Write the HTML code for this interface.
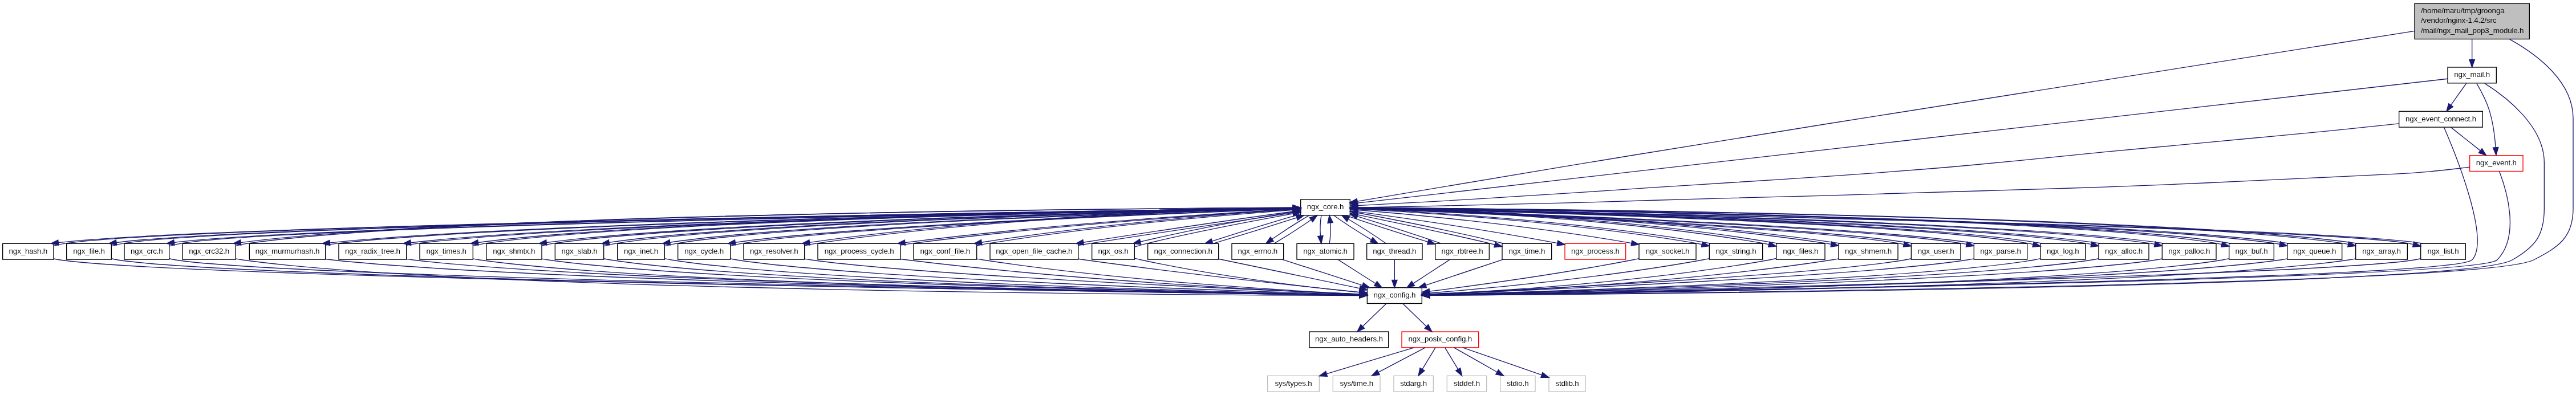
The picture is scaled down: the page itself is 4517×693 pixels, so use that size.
<!DOCTYPE html>
<html><head><meta charset="utf-8"><title>ngx_mail_pop3_module.h include graph</title>
<style>html,body{margin:0;padding:0;background:#fff}svg{display:block;will-change:transform}text{font-family:"Liberation Sans",sans-serif;font-size:13.33px;fill:#000;letter-spacing:-0.15px;stroke-width:0.05px;stroke:#fff}text.g{stroke:#bfbfbf}.e{fill:none;stroke:#191970;stroke-width:1.333}.a{fill:#191970;stroke:#191970;stroke-width:1.333}.b{stroke-width:1.333}</style></head><body>
<svg width="4517" height="693" viewBox="0 0 4517 693">
<rect width="4517" height="693" fill="#fff"/>
<rect class="b" x="4234" y="6.13" width="201.33" height="62.4" fill="#bfbfbf" stroke="#000"/>
<text class="g" x="4245.07" y="22.93">/home/maru/tmp/groonga</text>
<text class="g" x="4245.07" y="40.33">/vendor/nginx-1.4.2/src</text>
<text class="g" x="4245.07" y="57.73">/mail/ngx_mail_pop3_module.h</text>
<rect class="b" x="2397.33" y="504.67" width="96" height="27.8" fill="#fff" stroke="#000"/>
<text x="2445.33" y="521.9" text-anchor="middle">ngx_config.h</text>
<rect class="b" x="2280.67" y="350" width="86.67" height="27.8" fill="#fff" stroke="#000"/>
<text x="2324" y="366.9" text-anchor="middle">ngx_core.h</text>
<rect class="b" x="4292" y="118" width="85.33" height="27.8" fill="#fff" stroke="#000"/>
<text x="4334.67" y="134.9" text-anchor="middle">ngx_mail.h</text>
<rect class="b" x="2296" y="582" width="138.67" height="27.8" fill="#fff" stroke="#000"/>
<text x="2365.33" y="598.9" text-anchor="middle">ngx_auto_headers.h</text>
<rect class="b" x="2458" y="582" width="134.67" height="27.8" fill="#fff" stroke="#f00"/>
<text x="2525.33" y="598.9" text-anchor="middle">ngx_posix_config.h</text>
<rect class="b" x="2222.67" y="659.33" width="90.67" height="27.8" fill="#fff" stroke="#bfbfbf"/>
<text x="2268" y="676.9" text-anchor="middle">sys/types.h</text>
<rect class="b" x="2337.33" y="659.33" width="82.67" height="27.8" fill="#fff" stroke="#bfbfbf"/>
<text x="2378.67" y="676.9" text-anchor="middle">sys/time.h</text>
<rect class="b" x="2444" y="659.33" width="69.33" height="27.8" fill="#fff" stroke="#bfbfbf"/>
<text x="2478.67" y="676.9" text-anchor="middle">stdarg.h</text>
<rect class="b" x="2537.33" y="659.33" width="69.33" height="27.8" fill="#fff" stroke="#bfbfbf"/>
<text x="2572" y="676.9" text-anchor="middle">stddef.h</text>
<rect class="b" x="2630.67" y="659.33" width="61.33" height="27.8" fill="#fff" stroke="#bfbfbf"/>
<text x="2661.33" y="676.9" text-anchor="middle">stdio.h</text>
<rect class="b" x="2716" y="659.33" width="64" height="27.8" fill="#fff" stroke="#bfbfbf"/>
<text x="2748" y="676.9" text-anchor="middle">stdlib.h</text>
<rect class="b" x="2160" y="427.33" width="90.67" height="27.8" fill="#fff" stroke="#000"/>
<text x="2205.33" y="444.9" text-anchor="middle">ngx_errno.h</text>
<rect class="b" x="2274" y="427.33" width="100" height="27.8" fill="#fff" stroke="#000"/>
<text x="2324" y="444.9" text-anchor="middle">ngx_atomic.h</text>
<rect class="b" x="2396.67" y="427.33" width="97.33" height="27.8" fill="#fff" stroke="#000"/>
<text x="2445.33" y="444.9" text-anchor="middle">ngx_thread.h</text>
<rect class="b" x="2516.67" y="427.33" width="94.67" height="27.8" fill="#fff" stroke="#000"/>
<text x="2564" y="444.9" text-anchor="middle">ngx_rbtree.h</text>
<rect class="b" x="2634" y="427.33" width="86.67" height="27.8" fill="#fff" stroke="#000"/>
<text x="2677.33" y="444.9" text-anchor="middle">ngx_time.h</text>
<rect class="b" x="2874" y="427.33" width="100" height="27.8" fill="#fff" stroke="#000"/>
<text x="2924" y="444.9" text-anchor="middle">ngx_socket.h</text>
<rect class="b" x="2997.33" y="427.33" width="93.33" height="27.8" fill="#fff" stroke="#000"/>
<text x="3044" y="444.9" text-anchor="middle">ngx_string.h</text>
<rect class="b" x="3114.67" y="427.33" width="85.33" height="27.8" fill="#fff" stroke="#000"/>
<text x="3157.33" y="444.9" text-anchor="middle">ngx_files.h</text>
<rect class="b" x="3224" y="427.33" width="104" height="27.8" fill="#fff" stroke="#000"/>
<text x="3276" y="444.9" text-anchor="middle">ngx_shmem.h</text>
<rect class="b" x="2744" y="427.33" width="106.67" height="27.8" fill="#fff" stroke="#f00"/>
<text x="2797.33" y="444.9" text-anchor="middle">ngx_process.h</text>
<rect class="b" x="3351.33" y="427.33" width="86.67" height="27.8" fill="#fff" stroke="#000"/>
<text x="3394.67" y="444.9" text-anchor="middle">ngx_user.h</text>
<rect class="b" x="3461.33" y="427.33" width="93.33" height="27.8" fill="#fff" stroke="#000"/>
<text x="3508" y="444.9" text-anchor="middle">ngx_parse.h</text>
<rect class="b" x="3578" y="427.33" width="78.67" height="27.8" fill="#fff" stroke="#000"/>
<text x="3617.33" y="444.9" text-anchor="middle">ngx_log.h</text>
<rect class="b" x="3680" y="427.33" width="88" height="27.8" fill="#fff" stroke="#000"/>
<text x="3724" y="444.9" text-anchor="middle">ngx_alloc.h</text>
<rect class="b" x="3791.33" y="427.33" width="94.67" height="27.8" fill="#fff" stroke="#000"/>
<text x="3838.67" y="444.9" text-anchor="middle">ngx_palloc.h</text>
<rect class="b" x="3908.67" y="427.33" width="78.67" height="27.8" fill="#fff" stroke="#000"/>
<text x="3948" y="444.9" text-anchor="middle">ngx_buf.h</text>
<rect class="b" x="4010.67" y="427.33" width="96" height="27.8" fill="#fff" stroke="#000"/>
<text x="4058.67" y="444.9" text-anchor="middle">ngx_queue.h</text>
<rect class="b" x="4130.67" y="427.33" width="90.67" height="27.8" fill="#fff" stroke="#000"/>
<text x="4176" y="444.9" text-anchor="middle">ngx_array.h</text>
<rect class="b" x="4244.67" y="427.33" width="78.67" height="27.8" fill="#fff" stroke="#000"/>
<text x="4284" y="444.9" text-anchor="middle">ngx_list.h</text>
<rect class="b" x="4.67" y="427.33" width="89.33" height="27.8" fill="#fff" stroke="#000"/>
<text x="49.33" y="444.9" text-anchor="middle">ngx_hash.h</text>
<rect class="b" x="116.67" y="427.33" width="78.67" height="27.8" fill="#fff" stroke="#000"/>
<text x="156" y="444.9" text-anchor="middle">ngx_file.h</text>
<rect class="b" x="218" y="427.33" width="78.67" height="27.8" fill="#fff" stroke="#000"/>
<text x="257.33" y="444.9" text-anchor="middle">ngx_crc.h</text>
<rect class="b" x="320" y="427.33" width="93.33" height="27.8" fill="#fff" stroke="#000"/>
<text x="366.67" y="444.9" text-anchor="middle">ngx_crc32.h</text>
<rect class="b" x="437.33" y="427.33" width="133.33" height="27.8" fill="#fff" stroke="#000"/>
<text x="504" y="444.9" text-anchor="middle">ngx_murmurhash.h</text>
<rect class="b" x="594" y="427.33" width="118.67" height="27.8" fill="#fff" stroke="#000"/>
<text x="653.33" y="444.9" text-anchor="middle">ngx_radix_tree.h</text>
<rect class="b" x="736" y="427.33" width="93.33" height="27.8" fill="#fff" stroke="#000"/>
<text x="782.67" y="444.9" text-anchor="middle">ngx_times.h</text>
<rect class="b" x="852.67" y="427.33" width="97.33" height="27.8" fill="#fff" stroke="#000"/>
<text x="901.33" y="444.9" text-anchor="middle">ngx_shmtx.h</text>
<rect class="b" x="973.33" y="427.33" width="85.33" height="27.8" fill="#fff" stroke="#000"/>
<text x="1016" y="444.9" text-anchor="middle">ngx_slab.h</text>
<rect class="b" x="1082.67" y="427.33" width="82.67" height="27.8" fill="#fff" stroke="#000"/>
<text x="1124" y="444.9" text-anchor="middle">ngx_inet.h</text>
<rect class="b" x="1188.67" y="427.33" width="92" height="27.8" fill="#fff" stroke="#000"/>
<text x="1234.67" y="444.9" text-anchor="middle">ngx_cycle.h</text>
<rect class="b" x="1304" y="427.33" width="106.67" height="27.8" fill="#fff" stroke="#000"/>
<text x="1357.33" y="444.9" text-anchor="middle">ngx_resolver.h</text>
<rect class="b" x="1434" y="427.33" width="145.33" height="27.8" fill="#fff" stroke="#000"/>
<text x="1506.67" y="444.9" text-anchor="middle">ngx_process_cycle.h</text>
<rect class="b" x="1602" y="427.33" width="110.67" height="27.8" fill="#fff" stroke="#000"/>
<text x="1657.33" y="444.9" text-anchor="middle">ngx_conf_file.h</text>
<rect class="b" x="1736" y="427.33" width="154.67" height="27.8" fill="#fff" stroke="#000"/>
<text x="1813.33" y="444.9" text-anchor="middle">ngx_open_file_cache.h</text>
<rect class="b" x="1914.67" y="427.33" width="74.67" height="27.8" fill="#fff" stroke="#000"/>
<text x="1952" y="444.9" text-anchor="middle">ngx_os.h</text>
<rect class="b" x="2012.67" y="427.33" width="124" height="27.8" fill="#fff" stroke="#000"/>
<text x="2074.67" y="444.9" text-anchor="middle">ngx_connection.h</text>
<rect class="b" x="4330.67" y="272.67" width="93.33" height="27.8" fill="#fff" stroke="#f00"/>
<text x="4377.33" y="289.9" text-anchor="middle">ngx_event.h</text>
<rect class="b" x="4206.67" y="195.33" width="146.67" height="27.8" fill="#fff" stroke="#000"/>
<text x="4280" y="212.9" text-anchor="middle">ngx_event_connect.h</text>
<path class="e" d="M4400.69,68.88C4451.12,96.99 4512,144.15 4512,208C4512,208 4512,208 4512,365.33C4512,416.07 4487.8,432.83 4442.67,456C4354.53,501.25 2833.06,515.64 2506.67,518.22"/>
<polygon class="a" points="2506.63,513.55 2493.33,518.32 2506.7,522.88"/>
<path class="e" d="M4234.41,54.29C3996.64,91.4 3379.95,188.04 2865.33,272 2688.29,300.88 2478.92,336.31 2380.49,353.04"/>
<polygon class="a" points="2380.72,357.73 2366.79,355.37 2379.15,348.53 2380.72,357.73"/>
<path class="e" d="M4334.67,68.53C4334.67,80.21 4334.67,93.37 4334.67,104.67"/>
<polygon class="a" points="4330,104.67 4334.67,118 4339.33,104.67"/>
<path class="e" d="M2431.06,532.47C2419.51,543.63 2402.99,559.6 2389.4,572.73"/>
<polygon class="a" points="2386.16,569.38 2379.82,582 2392.65,576.09"/>
<path class="e" d="M2459.61,532.47C2471.16,543.63 2487.68,559.6 2501.26,572.73"/>
<polygon class="a" points="2498.02,576.09 2510.85,582 2504.51,569.38"/>
<path class="e" d="M2479.41,609.8C2436.57,622.67 2372.48,641.93 2326.1,655.87"/>
<polygon class="a" points="2324.76,651.4 2313.33,659.71 2327.45,660.34"/>
<path class="e" d="M2499.16,609.8C2476.32,621.84 2442.87,639.48 2417.01,653.11"/>
<polygon class="a" points="2414.84,648.99 2405.22,659.33 2419.19,657.24"/>
<path class="e" d="M2517.01,609.8C2510.63,620.36 2501.66,635.22 2494,647.92"/>
<polygon class="a" points="2490.01,645.51 2487.11,659.33 2498,650.33"/>
<path class="e" d="M2533.66,609.8C2540.03,620.36 2549,635.22 2556.66,647.92"/>
<polygon class="a" points="2552.67,650.33 2563.55,659.33 2560.66,645.51"/>
<path class="e" d="M2549.6,609.8C2570.59,621.73 2601.23,639.16 2625.12,652.74"/>
<polygon class="a" points="2622.82,656.8 2636.71,659.33 2627.43,648.69"/>
<path class="e" d="M2565.07,609.8C2603.92,623.29 2662.97,643.8 2703.4,657.85"/>
<polygon class="a" points="2701.87,662.25 2716,662.22 2704.94,653.44"/>
<path class="e" d="M2295.74,377.8C2275.84,389.39 2249.73,406.17 2230.54,419.57"/>
<polygon class="a" points="2227.82,415.78 2219.7,427.33 2233.25,423.37"/>
<path class="e" d="M2316.92,377.8C2315.09,387.86 2314.57,401.82 2315.36,414.09"/>
<polygon class="a" points="2310.72,414.62 2316.88,427.33 2319.99,413.55"/>
<path class="e" d="M2338.57,377.8C2355.07,389.69 2381.95,407.04 2404.74,420.61"/>
<polygon class="a" points="2402.38,424.64 2416.25,427.33 2407.09,416.58"/>
<path class="e" d="M2359.74,377.8C2397.85,390.84 2458.5,410.44 2503.92,424.42"/>
<polygon class="a" points="2502.55,428.88 2516.67,428.32 2505.28,419.96"/>
<path class="e" d="M2367.33,374C2423.74,385.71 2524.61,406.11 2610.67,426.67C2614.05,427.47 2617.54,428.34 2621.08,429.23"/>
<polygon class="a" points="2619.93,433.75 2634,432.52 2622.23,424.71"/>
<path class="e" d="M2367.33,367.28C2457.09,374.45 2670.03,393.42 2860.87,426.55"/>
<polygon class="a" points="2860.06,431.15 2874,428.86 2861.68,421.96"/>
<path class="e" d="M2367.33,366.15C2472.25,371.49 2746.83,387.85 2973.33,426.67C2976.91,427.28 2980.6,428 2984.32,428.77"/>
<polygon class="a" points="2983.3,433.33 2997.33,431.68 2985.34,424.22"/>
<path class="e" d="M2367.33,364.86C2484.84,367.7 2817.79,379.48 3090.67,426.67C3094.26,427.29 3097.96,428.04 3101.7,428.86"/>
<polygon class="a" points="3100.61,433.4 3114.67,431.96 3102.78,424.33"/>
<path class="e" d="M2367.33,364.8C2495.52,367.57 2882.44,379.37 3200,426.67C3203.56,427.2 3207.22,427.82 3210.92,428.51"/>
<polygon class="a" points="3210.01,433.08 3224,431.12 3211.84,423.93"/>
<path class="e" d="M2367.33,369.66C2439.78,379.35 2590.33,400.38 2730.9,426.58"/>
<polygon class="a" points="2730.03,431.17 2744,429.05 2731.76,422"/>
<path class="e" d="M2367.33,365.68C2534.74,372.01 3137.88,395.62 3328,426.67C3331.38,427.22 3334.85,427.89 3338.35,428.64"/>
<polygon class="a" points="3337.29,433.19 3351.33,431.69 3339.42,424.1"/>
<path class="e" d="M2367.33,365.45C2545.99,371.31 3224.46,394.43 3437.33,426.67C3440.91,427.21 3444.59,427.87 3448.3,428.61"/>
<polygon class="a" points="3447.31,433.17 3461.33,431.44 3449.3,424.05"/>
<path class="e" d="M2367.33,364.93C2557.58,369.02 3318.22,387.03 3554.67,426.67C3558.06,427.24 3561.55,427.95 3565.08,428.77"/>
<polygon class="a" points="3563.93,433.29 3578,432.05 3566.23,424.24"/>
<path class="e" d="M2367.33,364.88C2567.02,368.93 3398.1,387.33 3656,426.67C3659.59,427.21 3663.28,427.9 3667,428.67"/>
<polygon class="a" points="3665.96,433.22 3680,431.63 3668.04,424.12"/>
<path class="e" d="M2367.33,364.75C2577.08,368.4 3486.62,385.87 3768,426.67C3771.36,427.15 3774.81,427.75 3778.29,428.43"/>
<polygon class="a" points="3777.32,432.99 3791.33,431.21 3779.27,423.86"/>
<path class="e" d="M2367.33,364.34C2587.33,366.23 3580.36,377.2 3885.33,426.67C3888.73,427.22 3892.22,427.92 3895.74,428.72"/>
<polygon class="a" points="3894.6,433.25 3908.67,431.99 3896.88,424.2"/>
<path class="e" d="M2367.33,364.47C2595.69,367.06 3659.59,381.05 3986.67,426.67C3990.24,427.16 3993.91,427.79 3997.62,428.49"/>
<polygon class="a" points="3996.66,433.06 4010.67,431.22 3998.57,423.92"/>
<path class="e" d="M2367.33,364.27C2605.42,365.9 3754.75,376.11 4106.67,426.67C4110.25,427.18 4113.93,427.83 4117.65,428.57"/>
<polygon class="a" points="4116.64,433.13 4130.67,431.44 4118.65,424.01"/>
<path class="e" d="M2367.33,364.83C2632.8,369.84 4032.37,396.7 4221.33,426.67C4224.73,427.21 4228.22,427.9 4231.74,428.7"/>
<polygon class="a" points="4230.6,433.22 4244.67,431.95 4232.88,424.17"/>
<path class="e" d="M2280.67,364.59C1993.91,368.69 374.66,393.79 102.31,425.63"/>
<polygon class="a" points="101.71,421 89.09,427.33 102.91,430.26"/>
<path class="e" d="M2280.67,364.58C2001.75,368.56 464.59,392.45 204,425.48"/>
<polygon class="a" points="203.35,420.86 190.8,427.33 204.65,430.1"/>
<path class="e" d="M2280.67,364.65C2009.81,368.92 554.84,393.88 305.35,425.48"/>
<polygon class="a" points="304.7,420.86 292.15,427.33 306,430.1"/>
<path class="e" d="M2280.67,364.17C2035.22,365.33 818.35,373.71 422.18,425.55"/>
<polygon class="a" points="421.55,420.92 408.96,427.33 422.8,430.17"/>
<path class="e" d="M2280.67,364.63C2047.78,368.3 943.73,387.96 578.32,425.91"/>
<polygon class="a" points="577.83,421.27 565.07,427.33 578.82,430.55"/>
<path class="e" d="M2280.67,364.67C2059.4,368.36 1054.93,387.49 720.19,425.77"/>
<polygon class="a" points="719.64,421.13 706.95,427.33 720.74,430.4"/>
<path class="e" d="M2280.67,364.59C2069.4,367.77 1146.88,384.21 838.28,425.5"/>
<polygon class="a" points="837.63,420.87 825.07,427.33 838.92,430.12"/>
<path class="e" d="M2280.67,364.79C2080.14,368.75 1241.81,387.87 958.24,425.51"/>
<polygon class="a" points="957.6,420.89 945.03,427.33 958.88,430.13"/>
<path class="e" d="M2280.67,364.85C2090.3,368.92 1327.88,387.87 1067.92,425.35"/>
<polygon class="a" points="1067.23,420.73 1054.74,427.33 1068.62,429.96"/>
<path class="e" d="M2280.67,365.02C2100.68,369.66 1412.18,390.01 1174.7,425.28"/>
<polygon class="a" points="1173.99,420.67 1161.53,427.33 1175.42,429.9"/>
<path class="e" d="M2280.67,365.38C2112.45,371.2 1503.19,394.77 1289.21,425.36"/>
<polygon class="a" points="1288.51,420.74 1276.02,427.33 1289.9,429.98"/>
<path class="e" d="M2280.67,364.59C2150.51,366.94 1753.09,377.87 1419.54,425.43"/>
<polygon class="a" points="1418.87,420.81 1406.35,427.33 1420.21,430.05"/>
<path class="e" d="M2280.67,366.06C2167.37,372.13 1854.25,391.61 1586.92,425.63"/>
<polygon class="a" points="1586.32,421 1573.69,427.33 1587.51,430.26"/>
<path class="e" d="M2280.67,366.44C2181.92,372.8 1933.75,391.7 1721.18,425.23"/>
<polygon class="a" points="1720.44,420.62 1708.01,427.33 1721.92,429.84"/>
<path class="e" d="M2280.67,369.25C2204.59,379.48 2042.85,402.97 1899.6,425.28"/>
<polygon class="a" points="1898.88,420.67 1886.42,427.33 1900.32,429.89"/>
<path class="e" d="M2280.67,369.81C2218.82,379.33 2102.43,399.64 1999.62,424.2"/>
<polygon class="a" points="1998.52,419.66 1986.66,427.33 2000.72,428.73"/>
<path class="e" d="M2280.67,375.39C2237.35,387.98 2171.07,408.41 2125.36,423.2"/>
<polygon class="a" points="2123.92,418.77 2112.69,427.33 2126.81,427.64"/>
<path class="e" d="M2248.16,455.13C2287.52,467.81 2346.11,486.69 2389.19,500.58"/>
<polygon class="a" points="2387.76,505.02 2401.89,504.67 2390.63,496.14"/>
<path class="e" d="M2233.94,427.33C2253.89,415.69 2279.96,398.93 2299.07,385.57"/>
<polygon class="a" points="2301.79,389.36 2309.91,377.8 2296.35,381.78"/>
<path class="e" d="M2345.65,455.13C2364.11,466.9 2390.95,484 2412.12,497.5"/>
<polygon class="a" points="2409.62,501.44 2423.37,504.67 2414.63,493.57"/>
<path class="e" d="M2331.12,427.33C2332.93,417.23 2333.43,403.28 2332.63,391.04"/>
<polygon class="a" points="2337.26,390.5 2331.08,377.8 2327.99,391.58"/>
<path class="e" d="M2445.33,455.13C2445.33,465.17 2445.33,479.08 2445.33,491.33"/>
<polygon class="a" points="2440.67,491.33 2445.33,504.67 2450,491.33"/>
<path class="e" d="M2430.49,427.33C2413.88,415.38 2386.98,398.04 2364.25,384.52"/>
<polygon class="a" points="2366.6,380.49 2352.73,377.8 2361.9,388.55"/>
<path class="e" d="M2542.82,455.13C2524.82,466.87 2498.67,483.91 2477.99,497.39"/>
<polygon class="a" points="2475.44,493.48 2466.82,504.67 2480.53,501.3"/>
<path class="e" d="M2527.67,427.33C2488.4,413.9 2425.66,393.66 2380.09,379.69"/>
<polygon class="a" points="2381.45,375.22 2367.33,375.81 2378.73,384.15"/>
<path class="e" d="M2635.93,455.13C2598.01,467.78 2541.6,486.58 2499.98,500.45"/>
<polygon class="a" points="2498.51,496.02 2487.33,504.67 2501.46,504.88"/>
<path class="e" d="M2637.43,427.33C2636.5,427.11 2635.58,426.88 2634.67,426.67C2546.67,405.65 2443.17,384.79 2380.45,373.22"/>
<polygon class="a" points="2381.29,368.63 2367.33,370.83 2379.61,377.82"/>
<path class="e" d="M2874,453.66C2870.17,454.49 2866.36,455.28 2862.67,456C2736.87,480.44 2588.15,500.74 2506.56,511.14"/>
<polygon class="a" points="2505.97,506.51 2493.33,512.82 2507.15,515.77"/>
<path class="e" d="M2997.33,453.58C2993.29,454.46 2989.25,455.29 2985.33,456C2813.2,487.37 2607.18,506.17 2506.63,514.15"/>
<polygon class="a" points="2506.26,509.5 2493.33,515.19 2506.99,518.81"/>
<path class="e" d="M3001.05,427.33C2999.8,427.1 2998.56,426.88 2997.33,426.67C2771.24,387.92 2497.26,371.55 2380.65,366.18"/>
<polygon class="a" points="2380.86,361.52 2367.33,365.58 2380.44,370.84"/>
<path class="e" d="M3114.67,453.51C3110.63,454.44 3106.58,455.29 3102.67,456C2885.58,495.18 2623.46,510.87 2506.65,516.24"/>
<polygon class="a" points="2506.44,511.58 2493.33,516.84 2506.86,520.9"/>
<path class="e" d="M3118.31,427.33C3117.09,427.1 3115.87,426.88 3114.67,426.67C2842.84,379.67 2511.41,367.79 2380.66,364.9"/>
<polygon class="a" points="2380.76,360.23 2367.33,364.62 2380.57,369.56"/>
<path class="e" d="M3224,453.9C3219.95,454.68 3215.92,455.39 3212,456C2951.58,496.27 2637.13,511.69 2506.66,516.65"/>
<polygon class="a" points="2506.48,511.98 2493.33,517.14 2506.83,521.31"/>
<path class="e" d="M3228.24,427.33C3226.82,427.1 3225.4,426.88 3224,426.67C2908.05,379.6 2523.43,367.69 2380.66,364.84"/>
<polygon class="a" points="2380.75,360.18 2367.33,364.59 2380.58,369.51"/>
<path class="e" d="M3351.33,453.77C3347.52,454.62 3343.7,455.38 3340,456C3178.96,482.98 2681.28,507.82 2506.65,515.91"/>
<polygon class="a" points="2506.44,511.25 2493.33,516.52 2506.87,520.57"/>
<path class="e" d="M3355.82,427.33C3354.54,427.1 3353.26,426.87 3352,426.67C3163.3,395.85 2567.72,372.36 2380.66,365.82"/>
<polygon class="a" points="2380.82,361.16 2367.33,365.36 2380.5,370.49"/>
<path class="e" d="M3461.33,453.81C3457.29,454.65 3453.25,455.39 3449.33,456C3265.99,484.4 2695.41,508.82 2506.66,516.31"/>
<polygon class="a" points="2506.47,511.65 2493.33,516.84 2506.84,520.97"/>
<path class="e" d="M3465.44,427.33C3464.06,427.1 3462.69,426.87 3461.33,426.67C3250.1,394.68 2580.43,371.66 2380.66,365.59"/>
<polygon class="a" points="2380.8,360.93 2367.33,365.19 2380.52,370.26"/>
<path class="e" d="M3578,453.65C3574.2,454.56 3570.37,455.37 3566.67,456C3360.09,491.2 2709.89,511.47 2506.66,517.06"/>
<polygon class="a" points="2506.53,512.4 2493.33,517.43 2506.79,521.73"/>
<path class="e" d="M3582.35,427.33C3581.11,427.09 3579.88,426.87 3578.67,426.67C3344.09,387.35 2593.54,369.3 2380.66,365.03"/>
<polygon class="a" points="2380.76,360.36 2367.33,364.76 2380.57,369.69"/>
<path class="e" d="M3680,453.76C3675.96,454.62 3671.92,455.39 3668,456C3440.36,491.26 2721.65,511.74 2506.66,517.19"/>
<polygon class="a" points="2506.55,512.52 2493.33,517.52 2506.78,521.85"/>
<path class="e" d="M3684.05,427.33C3682.69,427.09 3681.34,426.87 3680,426.67C3424.15,387.64 2604.23,369.22 2380.66,364.98"/>
<polygon class="a" points="2380.75,360.31 2367.33,364.73 2380.58,369.64"/>
<path class="e" d="M3791.33,454.01C3787.52,454.78 3783.71,455.46 3780,456C3529.25,492.86 2734.12,512.45 2506.66,517.4"/>
<polygon class="a" points="2506.56,512.73 2493.33,517.69 2506.76,522.07"/>
<path class="e" d="M3796.25,427.33C3794.82,427.09 3793.4,426.87 3792,426.67C3512.88,386.19 2615.64,368.69 2380.66,364.84"/>
<polygon class="a" points="2380.74,360.17 2367.33,364.63 2380.59,369.51"/>
<path class="e" d="M3908.67,453.7C3904.86,454.6 3901.04,455.39 3897.33,456C3623.25,500.92 2746.79,514.93 2506.67,517.97"/>
<polygon class="a" points="2506.61,513.3 2493.33,518.13 2506.72,522.63"/>
<path class="e" d="M3913.11,427.33C3911.84,427.09 3910.58,426.87 3909.33,426.67C3606.82,377.6 2627.26,366.41 2380.67,364.39"/>
<polygon class="a" points="2380.7,359.72 2367.33,364.28 2380.63,369.06"/>
<path class="e" d="M4010.67,453.96C4006.63,454.75 4002.59,455.45 3998.67,456C3702.85,497.7 2757.1,514.14 2506.67,517.83"/>
<polygon class="a" points="2506.6,513.16 2493.33,518.02 2506.73,522.49"/>
<path class="e" d="M4015.07,427.33C4013.59,427.09 4012.12,426.87 4010.67,426.67C3686.22,381.42 2636.75,367.28 2380.67,364.54"/>
<polygon class="a" points="2380.72,359.87 2367.33,364.4 2380.62,369.2"/>
<path class="e" d="M4130.67,453.87C4126.63,454.7 4122.59,455.43 4118.67,456C3798.31,502.43 2769.06,515.5 2506.67,518.12"/>
<polygon class="a" points="2506.62,513.45 2493.33,518.25 2506.71,522.78"/>
<path class="e" d="M4134.93,427.33C4133.5,427.09 4132.07,426.87 4130.67,426.67C3781.57,376.52 2647.79,366.06 2380.67,364.31"/>
<polygon class="a" points="2380.7,359.64 2367.33,364.23 2380.64,368.98"/>
<path class="e" d="M4244.67,453.74C4240.86,454.63 4237.04,455.41 4233.33,456C4060.15,483.66 2800.83,511.29 2506.66,517.42"/>
<polygon class="a" points="2506.57,512.75 2493.33,517.69 2506.76,522.08"/>
<path class="e" d="M4249.17,427.33C4247.88,427.09 4246.6,426.87 4245.33,426.67C4057.86,396.93 2678.81,370.26 2380.66,364.96"/>
<polygon class="a" points="2380.75,360.29 2367.33,364.72 2380.58,369.62"/>
<path class="e" d="M94,454C97.81,454.79 101.63,455.47 105.33,456C336.46,488.92 2037.91,513.23 2384,517.87"/>
<polygon class="a" points="2383.94,522.53 2397.33,518.04 2384.06,513.2"/>
<path class="e" d="M94,431.37C101.81,429.47 109.8,427.75 117.33,426.67C336.04,395.36 1943.58,369.85 2267.33,364.88"/>
<polygon class="a" points="2267.41,369.54 2280.67,364.67 2267.26,360.21"/>
<path class="e" d="M195.33,453.77C199.14,454.65 202.96,455.42 206.67,456C426.77,490.36 2046.91,513.42 2384,517.88"/>
<polygon class="a" points="2383.94,522.54 2397.33,518.05 2384.06,513.21"/>
<path class="e" d="M195.33,431.94C203.11,429.82 211.12,427.85 218.67,426.67C426.37,394.07 1952.49,369.7 2267.33,364.88"/>
<polygon class="a" points="2267.41,369.54 2280.67,364.67 2267.26,360.21"/>
<path class="e" d="M296.67,453.76C300.47,454.65 304.29,455.42 308,456C517.52,488.86 2056.15,512.99 2384,517.79"/>
<polygon class="a" points="2383.93,522.46 2397.33,517.99 2384.07,513.13"/>
<path class="e" d="M296.67,431.95C304.45,429.83 312.46,427.86 320,426.67C517.12,395.58 1961.66,370.17 2267.34,364.97"/>
<polygon class="a" points="2267.41,369.64 2280.67,364.75 2267.26,360.31"/>
<path class="e" d="M413.33,453.95C417.37,454.75 421.41,455.46 425.33,456C817.69,510.49 2089.39,517.61 2384,518.53"/>
<polygon class="a" points="2383.99,523.2 2397.33,518.57 2384.01,513.86"/>
<path class="e" d="M413.33,431.31C421.37,429.45 429.58,427.75 437.33,426.67C804.83,375.26 1993.28,365.81 2267.33,364.27"/>
<polygon class="a" points="2267.36,368.94 2280.67,364.2 2267.31,359.61"/>
<path class="e" d="M570.67,454.48C574.72,455.06 578.74,455.57 582.67,456C943.68,495.5 2103.81,513.91 2384,517.85"/>
<polygon class="a" points="2383.94,522.51 2397.33,518.03 2384.07,513.18"/>
<path class="e" d="M570.67,430.04C578.77,428.71 586.91,427.52 594.67,426.67C930.74,389.5 2007.64,369.46 2267.34,364.97"/>
<polygon class="a" points="2267.42,369.64 2280.67,364.75 2267.26,360.31"/>
<path class="e" d="M712.67,454.4C716.49,455.01 720.29,455.55 724,456C1055.26,496.12 2117.09,513.91 2384,517.82"/>
<polygon class="a" points="2383.93,522.48 2397.33,518.01 2384.07,513.15"/>
<path class="e" d="M712.67,430.36C720.54,428.9 728.46,427.59 736,426.67C1042.33,389.14 2020.91,369.57 2267.34,365.03"/>
<polygon class="a" points="2267.42,369.7 2280.67,364.79 2267.25,360.37"/>
<path class="e" d="M829.33,453.92C833.37,454.73 837.41,455.44 841.33,456C1147.49,499.77 2128.46,514.75 2384,517.96"/>
<polygon class="a" points="2383.94,522.63 2397.33,518.12 2384.06,513.29"/>
<path class="e" d="M829.33,431.36C837.38,429.5 845.59,427.79 853.33,426.67C1134.62,385.99 2032.32,368.88 2267.34,364.93"/>
<polygon class="a" points="2267.41,369.59 2280.67,364.71 2267.26,360.26"/>
<path class="e" d="M950,454.08C953.82,454.82 957.63,455.47 961.33,456C1242.86,495.95 2140.67,513.58 2384,517.69"/>
<polygon class="a" points="2383.92,522.36 2397.33,517.92 2384.08,513.03"/>
<path class="e" d="M950,431.12C957.84,429.36 965.8,427.75 973.33,426.67C1229.99,389.75 2044.6,370.14 2267.34,365.24"/>
<polygon class="a" points="2267.44,369.9 2280.67,364.95 2267.23,360.57"/>
<path class="e" d="M1058.67,453.73C1062.7,454.61 1066.74,455.39 1070.67,456C1329.3,496.1 2152.16,513.46 2384,517.64"/>
<polygon class="a" points="2383.92,522.3 2397.33,517.87 2384.09,512.97"/>
<path class="e" d="M1058.67,431.79C1066.69,429.77 1074.92,427.89 1082.67,426.67C1316.47,389.89 2056.2,370.4 2267.34,365.34"/>
<polygon class="a" points="2267.45,370.01 2280.67,365.03 2267.23,360.68"/>
<path class="e" d="M1165.33,453.65C1169.36,454.56 1173.41,455.37 1177.33,456C1414.02,493.92 2163.86,512.64 2384,517.41"/>
<polygon class="a" points="2383.9,522.08 2397.33,517.7 2384.1,512.75"/>
<path class="e" d="M1165.33,431.95C1173.35,429.88 1181.59,427.93 1189.33,426.67C1401.22,392.15 2068.06,371.36 2267.34,365.63"/>
<polygon class="a" points="2267.47,370.29 2280.67,365.25 2267.21,360.96"/>
<path class="e" d="M1280.67,453.94C1284.48,454.73 1288.3,455.43 1292,456C1505.6,488.8 2177.07,510.79 2384.01,516.92"/>
<polygon class="a" points="2383.87,521.59 2397.33,517.31 2384.14,512.26"/>
<path class="e" d="M1280.67,431.43C1288.49,429.57 1296.47,427.85 1304,426.67C1492.8,397.06 2081.53,373.35 2267.34,366.21"/>
<polygon class="a" points="2267.52,370.87 2280.67,365.7 2267.16,361.55"/>
<path class="e" d="M1410.67,454.04C1414.71,454.78 1418.75,455.44 1422.67,456C1610.12,482.61 2192.97,508.3 2384.01,516.2"/>
<polygon class="a" points="2383.82,520.86 2397.33,516.74 2384.2,511.53"/>
<path class="e" d="M1410.67,431.02C1418.74,429.35 1426.93,427.8 1434.67,426.67C1747.29,380.98 2125.93,368.39 2267.34,365.1"/>
<polygon class="a" points="2267.44,369.77 2280.67,364.8 2267.23,360.44"/>
<path class="e" d="M1579.33,454.48C1583.16,455.03 1586.96,455.54 1590.67,456C1886.73,492.61 2243.34,510.31 2384.01,516.27"/>
<polygon class="a" points="2383.82,520.93 2397.33,516.83 2384.21,511.61"/>
<path class="e" d="M1579.33,430.08C1587.23,428.82 1595.13,427.65 1602.67,426.67C1849.52,394.63 2145.34,375.06 2267.36,367.54"/>
<polygon class="a" points="2267.64,372.2 2280.67,366.72 2267.07,362.88"/>
<path class="e" d="M1712.67,454.08C1716.49,454.78 1720.3,455.43 1724,456C1966.8,493.09 2259.18,510.07 2384.01,516.03"/>
<polygon class="a" points="2383.8,520.69 2397.33,516.65 2384.23,511.37"/>
<path class="e" d="M1712.67,431.02C1720.54,429.41 1728.48,427.88 1736,426.67C1930.06,395.29 2162.1,376.23 2267.37,368.3"/>
<polygon class="a" points="2267.72,372.95 2280.67,367.31 2267.02,363.65"/>
<path class="e" d="M1890.67,454.26C1894.72,454.87 1898.74,455.45 1902.67,456C2076.84,480.34 2283.42,502.3 2384.07,512.56"/>
<polygon class="a" points="2383.6,517.2 2397.33,513.9 2384.54,507.91"/>
<path class="e" d="M1890.67,430.48C1898.81,429.17 1906.92,427.88 1914.67,426.67C2040.79,406.94 2188.39,385.32 2267.49,373.33"/>
<polygon class="a" points="2268.19,377.95 2280.67,371.33 2266.78,368.72"/>
<path class="e" d="M1989.33,453.07C1993.36,454.14 1997.42,455.15 2001.33,456C2136.49,485.46 2297.95,504.22 2384.07,512.93"/>
<polygon class="a" points="2383.6,517.58 2397.33,514.26 2384.53,508.29"/>
<path class="e" d="M1989.33,433.14C1997.37,430.89 2005.64,428.55 2013.33,426.67C2101.61,405.03 2204.95,386.05 2267.54,374.81"/>
<polygon class="a" points="2268.37,379.4 2280.67,372.46 2266.72,370.22"/>
<path class="e" d="M2136.67,454.27C2205.48,468.63 2315.85,491.65 2384.28,505.93"/>
<polygon class="a" points="2383.33,510.5 2397.33,508.65 2385.23,501.36"/>
<path class="e" d="M2126.92,427.33C2170.24,414.61 2231.21,395.76 2273.91,381.93"/>
<polygon class="a" points="2275.36,386.37 2286.59,377.8 2272.47,377.5"/>
<path class="e" d="M4356.73,146.15C4393.03,169.05 4461.33,220.76 4461.33,285.33C4461.33,285.33 4461.33,285.33 4461.33,365.33C4461.33,412.69 4446.33,432.28 4405.33,456C4321.27,504.63 2829.61,516.36 2506.67,518.33"/>
<polygon class="a" points="2506.64,513.66 2493.33,518.41 2506.69,523"/>
<path class="e" d="M4291.75,138.23C4032.33,167.81 2675.41,322.59 2380.57,356.21"/>
<polygon class="a" points="2380.72,360.89 2366.95,357.77 2379.67,351.63 2380.72,360.89"/>
<path class="e" d="M4342.83,146.44C4349.95,158.51 4359.96,177.13 4365.33,194.67 4371.73,215.53 4374.72,240.15 4376.12,258.45"/>
<polygon class="a" points="4380.8,258.53 4376.95,272.13 4371.48,259.11 4380.8,258.53"/>
<path class="e" d="M4324.91,145.8C4317.34,156.51 4306.65,171.64 4297.59,184.45"/>
<polygon class="a" points="4293.78,181.75 4289.9,195.33 4301.4,187.14"/>
<path class="e" d="M4382.6,300.69C4394.64,331.96 4420.07,413.27 4378.67,456C4345.31,490.43 2832.31,513.31 2506.67,517.84"/>
<polygon class="a" points="2506.6,513.17 2493.33,518.02 2506.73,522.51"/>
<path class="e" d="M4330.7,293.2C4318.83,294.52 4281.92,299.07 4259.5,301.1C4237.08,303.13 4227.83,303.67 4196.2,305.4C4164.57,307.13 4111.88,309.52 4069.7,311.5C4027.52,313.48 3985.28,315.35 3943.1,317.3C3900.92,319.25 3858.78,321.4 3816.6,323.2C3774.42,325 3735.07,326.52 3690,328.1C3644.93,329.68 3591.25,331.3 3546.2,332.7C3501.15,334.1 3461.88,335.23 3419.7,336.5C3377.52,337.77 3335.28,339.03 3293.1,340.3C3250.92,341.57 3208.78,342.92 3166.6,344.1C3124.42,345.28 3085.07,346.17 3040,347.4C2994.93,348.63 2941.25,350.18 2896.2,351.5C2851.15,352.82 2811.88,354.17 2769.7,355.3C2727.52,356.43 2685.28,357.28 2643.1,358.3C2600.92,359.32 2560.28,360.43 2516.6,361.4C2472.92,362.37 2403.6,363.65 2381,364.1"/>
<polygon class="a" points="2380.89,359.43 2367.7,364.4 2381.11,368.77"/>
<path class="e" d="M4285.71,223.64C4305.43,269.36 4367.6,421.99 4334.67,456C4302.12,489.61 2827.8,513.08 2506.67,517.79"/>
<polygon class="a" points="2506.6,513.13 2493.33,517.99 2506.73,522.46"/>
<path class="e" d="M4206.5,216.9C4183.68,219.27 4113.5,226.75 4069.6,231.1C4025.7,235.45 3985.28,239.03 3943.1,243C3900.92,246.97 3858.68,250.95 3816.5,254.9C3774.32,258.85 3735.05,262.33 3690,266.7C3644.95,271.07 3591.25,276.72 3546.2,281.1C3501.15,285.48 3461.88,289.33 3419.7,293C3377.52,296.67 3335.28,299.95 3293.1,303.1C3250.92,306.25 3208.78,309.08 3166.6,311.9C3124.42,314.72 3085.07,317.12 3040,320C2994.93,322.88 2941.25,326.27 2896.2,329.2C2851.15,332.13 2811.88,334.85 2769.7,337.6C2727.52,340.35 2685.28,343.08 2643.1,345.7C2600.92,348.32 2560.28,350.82 2516.6,353.3C2472.92,355.78 2403.6,359.38 2381,360.6"/>
<polygon class="a" points="2380.75,355.94 2367.7,361.3 2381.25,365.26"/>
<path class="e" d="M4297.37,223.13C4311.77,234.57 4332.52,251.06 4349.27,264.37"/>
<polygon class="a" points="4346.37,268.03 4359.71,272.67 4352.18,260.72"/>
</svg></body></html>
